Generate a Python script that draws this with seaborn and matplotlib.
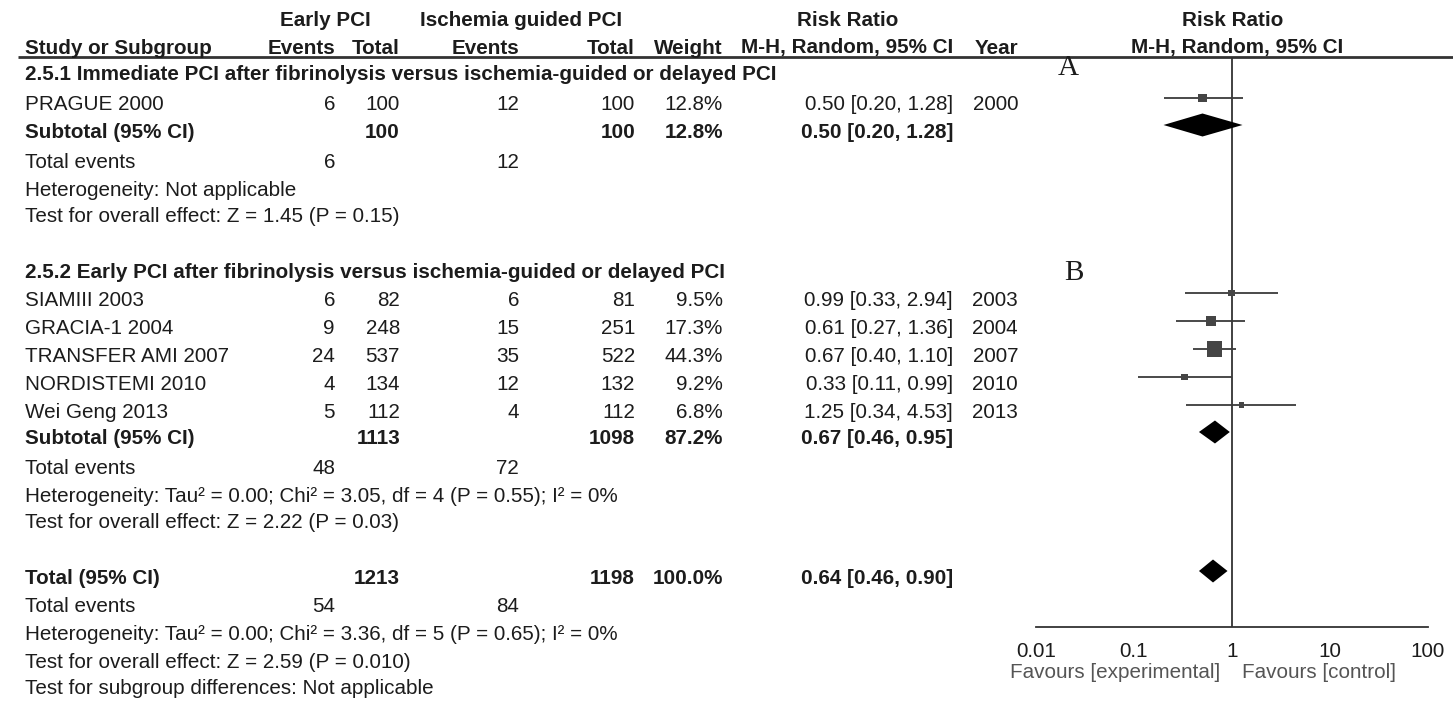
import numpy as np
import pandas as pd
import matplotlib
matplotlib.use("Agg")
import matplotlib.pyplot as plt
import seaborn as sns

# ---------------- data ----------------
study = ["PRAGUE 2000", "SIAMIII 2003", "GRACIA-1 2004", "TRANSFER AMI 2007",
         "NORDISTEMI 2010", "Wei Geng 2013"]
subgroup_of = ["2.5.1", "2.5.2", "2.5.2", "2.5.2", "2.5.2", "2.5.2"]
events_early = [6, 6, 9, 24, 4, 5]
total_early = [100, 82, 248, 537, 134, 112]
events_isch = [12, 6, 15, 35, 12, 4]
total_isch = [100, 81, 251, 522, 132, 112]
weight = [12.8, 9.5, 17.3, 44.3, 9.2, 6.8]
rr = [0.50, 0.99, 0.61, 0.67, 0.33, 1.25]
rr_lo = [0.20, 0.33, 0.27, 0.40, 0.11, 0.34]
rr_hi = [1.28, 2.94, 1.36, 1.10, 0.99, 4.53]
year = [2000, 2003, 2004, 2007, 2010, 2013]

subgroup_ids = ["2.5.1", "2.5.2"]
subgroup_titles = [
    "2.5.1 Immediate PCI after fibrinolysis versus ischemia-guided or delayed PCI",
    "2.5.2 Early PCI after fibrinolysis versus ischemia-guided or delayed PCI",
]
pooled_label = ["Subtotal (95% CI)", "Subtotal (95% CI)", "Total (95% CI)"]
pooled_total_early = [100, 1113, 1213]
pooled_total_isch = [100, 1098, 1198]
pooled_weight = [12.8, 87.2, 100.0]
pooled_rr = [0.50, 0.67, 0.64]
pooled_lo = [0.20, 0.46, 0.46]
pooled_hi = [1.28, 0.95, 0.90]
pooled_events_early = [6, 48, 54]
pooled_events_isch = [12, 72, 84]
heterogeneity = [
    "Heterogeneity: Not applicable",
    "Heterogeneity: Tau\u00b2 = 0.00; Chi\u00b2 = 3.05, df = 4 (P = 0.55); I\u00b2 = 0%",
    "Heterogeneity: Tau\u00b2 = 0.00; Chi\u00b2 = 3.36, df = 5 (P = 0.65); I\u00b2 = 0%",
]
overall_effect = [
    "Test for overall effect: Z = 1.45 (P = 0.15)",
    "Test for overall effect: Z = 2.22 (P = 0.03)",
    "Test for overall effect: Z = 2.59 (P = 0.010)",
]
subgroup_diff = "Test for subgroup differences: Not applicable"
panel_letters = ["A", "B"]
tick_values = [0.01, 0.1, 1, 10, 100]
tick_labels = ["0.01", "0.1", "1", "10", "100"]
favours = ["Favours [experimental]", "Favours [control]"]

# ---------------- layout (pixel rows / columns) ----------------
W, H = 1453, 702
ROW_HEAD1, ROW_HEAD2, HEADER_LINE = 20, 48, 57
SUB_HEAD_Y = [75, 272]
STUDY_Y = [105, 300, 328, 356, 384, 412]
POOLED_Y = [132, 439, 578]
EVENTS_Y = [162, 468, 607]
HET_Y = [190, 497, 635]
TEST_Y = [217, 523, 662]
DIFF_Y = 688
MARK_DY = -7
AXIS_Y = 627
X_PLOT0, X_PLOT1 = 1036, 1428

X_NAME, X_EE, X_NE, X_EC, X_NC, X_W, X_RR, X_YR = 25, 335, 400, 519, 635, 723, 953, 1018

FS = 14.9
INK = "#1c1c1c"
GREY = "#555555"

sns.set_style("white")
plt.rcParams["font.family"] = ["Liberation Sans", "DejaVu Sans"]

fig = plt.figure(figsize=(W / 100, H / 100), dpi=100)
tx = fig.add_axes([0, 0, 1, 1])
tx.set_xlim(0, W)
tx.set_ylim(H, 0)
tx.axis("off")


def put(x, y, s, ha="left", bold=False, color=INK, size=FS, family=None):
    kw = {}
    if family is not None:
        kw["family"] = family
    tx.text(x, y, s, ha=ha, va="center", fontsize=size,
            fontweight="bold" if bold else "normal", color=color, **kw)


# headers
put(325, ROW_HEAD1, "Early PCI", ha="center", bold=True)
put(521, ROW_HEAD1, "Ischemia guided PCI", ha="center", bold=True)
put(848, ROW_HEAD1, "Risk Ratio", ha="center", bold=True)
put(1233, ROW_HEAD1, "Risk Ratio", ha="center", bold=True)
put(X_NAME, ROW_HEAD2, "Study or Subgroup", bold=True)
put(X_EE, ROW_HEAD2, "Events", ha="right", bold=True)
put(X_NE, ROW_HEAD2, "Total", ha="right", bold=True)
put(X_EC, ROW_HEAD2, "Events", ha="right", bold=True)
put(X_NC, ROW_HEAD2, "Total", ha="right", bold=True)
put(X_W, ROW_HEAD2, "Weight", ha="right", bold=True)
put(X_RR, ROW_HEAD2, "M-H, Random, 95% CI", ha="right", bold=True)
put(X_YR, ROW_HEAD2, "Year", ha="right", bold=True)
put(1237, ROW_HEAD2, "M-H, Random, 95% CI", ha="center", bold=True)
tx.plot([18, W], [HEADER_LINE, HEADER_LINE], color="#333333", lw=2.0,
        solid_capstyle="butt")

# subgroup headings
for gi, title in enumerate(subgroup_titles):
    put(X_NAME, SUB_HEAD_Y[gi], title, bold=True)

# study rows
for i, name in enumerate(study):
    y = STUDY_Y[i]
    put(X_NAME, y, name)
    put(X_EE, y, str(events_early[i]), ha="right")
    put(X_NE, y, str(total_early[i]), ha="right")
    put(X_EC, y, str(events_isch[i]), ha="right")
    put(X_NC, y, str(total_isch[i]), ha="right")
    put(X_W, y, f"{weight[i]:.1f}%", ha="right")
    put(X_RR, y, f"{rr[i]:.2f} [{rr_lo[i]:.2f}, {rr_hi[i]:.2f}]", ha="right")
    put(X_YR, y, str(year[i]), ha="right")

# pooled rows
for k, lab in enumerate(pooled_label):
    y = POOLED_Y[k]
    put(X_NAME, y, lab, bold=True)
    put(X_NE, y, str(pooled_total_early[k]), ha="right", bold=True)
    put(X_NC, y, str(pooled_total_isch[k]), ha="right", bold=True)
    put(X_W, y, f"{pooled_weight[k]:.1f}%", ha="right", bold=True)
    put(X_RR, y, f"{pooled_rr[k]:.2f} [{pooled_lo[k]:.2f}, {pooled_hi[k]:.2f}]",
        ha="right", bold=True)
    put(X_NAME, EVENTS_Y[k], "Total events")
    put(X_EE, EVENTS_Y[k], str(pooled_events_early[k]), ha="right")
    put(X_EC, EVENTS_Y[k], str(pooled_events_isch[k]), ha="right")
    put(X_NAME, HET_Y[k], heterogeneity[k])
    put(X_NAME, TEST_Y[k], overall_effect[k])
put(X_NAME, DIFF_Y, subgroup_diff)

# panel letters
put(1068, 68, panel_letters[0], ha="center", size=21, family="Liberation Serif")
put(1074, 273, panel_letters[1], ha="center", size=21, family="Liberation Serif")

# favours labels
put(1220, 673, favours[0], ha="right", color=GREY)
put(1242, 673, favours[1], ha="left", color=GREY)

# ---------------- forest axes ----------------
fx = fig.add_axes([X_PLOT0 / W, (H - AXIS_Y) / H, (X_PLOT1 - X_PLOT0) / W,
                   (AXIS_Y - HEADER_LINE) / H])
fx.set_xscale("log")
fx.set_xlim(0.01, 100)
fx.set_ylim(AXIS_Y, HEADER_LINE)
fx.patch.set_alpha(0)

df = pd.DataFrame({"rr": rr, "lo": rr_lo, "hi": rr_hi, "w": weight,
                   "y": [v + MARK_DY for v in STUDY_Y]})
fx.axvline(1, color="#333333", lw=1.3, zorder=1)
fx.hlines(df["y"], df["lo"], df["hi"], color="#3a3a3a", lw=1.3, zorder=2)
sns.scatterplot(data=df, x="rr", y="y", size="w", sizes=(0, 132),
                size_norm=(0, 50), marker="s", color="#454545",
                edgecolor="none", linewidth=0, legend=False, zorder=3, ax=fx)

for k in range(len(pooled_rr)):
    yc = POOLED_Y[k] + MARK_DY
    fx.fill([pooled_lo[k], pooled_rr[k], pooled_hi[k], pooled_rr[k]],
            [yc, yc - 11.5, yc, yc + 11.5], color="black", lw=0, zorder=4)

for s in ["top", "left", "right"]:
    fx.spines[s].set_visible(False)
fx.spines["bottom"].set_color("#333333")
fx.spines["bottom"].set_linewidth(1.3)
fx.set_xticks(tick_values)
fx.set_xticklabels(tick_labels)
fx.minorticks_off()
fx.tick_params(axis="x", direction="inout", length=9, width=1.3,
               colors="#333333", labelcolor=INK, labelsize=FS, pad=6)
fx.set_yticks([])
fx.set_xlabel("")
fx.set_ylabel("")

fig.savefig("out.png", dpi=100)
